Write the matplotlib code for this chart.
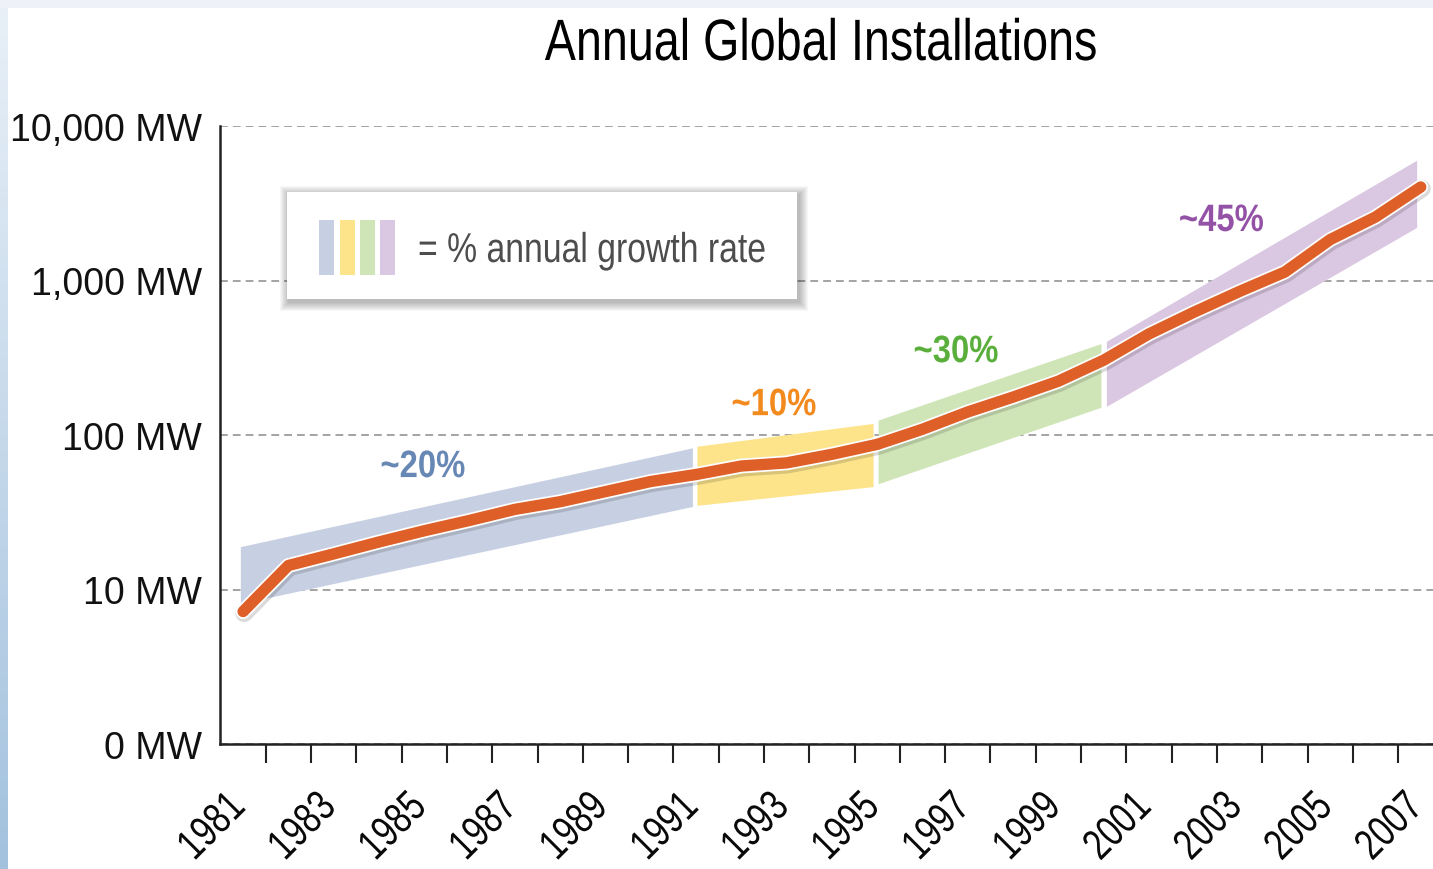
import numpy as np
import matplotlib
matplotlib.use('Agg')
import matplotlib.pyplot as plt
from matplotlib import patheffects as pe
from matplotlib import font_manager
from matplotlib.patches import Rectangle
from matplotlib.ticker import NullLocator, FixedLocator
from matplotlib.transforms import Affine2D, Bbox, ScaledTranslation

# values (MW installed per year)
years = list(range(1981, 2008))
mw = [7.2, 14.3, 17, 20.3, 24, 28, 33, 37, 43, 50,
      55.5, 63, 66, 75, 87, 109, 141, 176, 223, 305,
      451, 625, 850, 1135, 1840, 2575, 4030]

# growth-rate bands: x range and low/high edges at both ends
band_x0 = [1980.95, 1991.03, 1995.03, 2000.07]
band_x1 = [1990.93, 1994.92, 1999.95, 2006.92]
band_lo0 = [8.05, 34.8, 48, 152]
band_lo1 = [34.2, 46, 150, 2190]
band_hi0 = [18.8, 84, 124, 401]
band_hi1 = [82, 118, 388, 5960]
band_colors = ['#c7d0e2', '#fde48b', '#d0e5b7', '#dac7e2']

band_labels = ['~20%', '~10%', '~30%', '~45%']
label_x = [1984.97, 1992.72, 1996.74, 2002.6]
label_y = [62, 156, 344, 2427]
label_colors = ['#6787b5', '#f28a1e', '#5aaf3c', '#9452a6']

ytick_vals = [1, 10, 100, 1000, 10000]
ytick_text = ['0 MW', '10 MW', '100 MW', '1,000 MW', '10,000 MW']
xlabel_years = list(range(1981, 2008, 2))

names = {f.name for f in font_manager.fontManager.ttflist}
SANS = 'Liberation Sans' if 'Liberation Sans' in names else 'DejaVu Sans'


class Condense(pe.AbstractPathEffect):
    """squeeze a text horizontally (along its baseline) about its anchor"""

    def __init__(self, text, sx):
        super().__init__()
        self.text = text
        self.sx = sx

    def draw_path(self, renderer, gc, tpath, affine, rgbFace=None):
        x, y = self.text.get_transform().transform(self.text.get_unitless_position())
        a = self.text.get_rotation()
        squeeze = (Affine2D().translate(-x, -y).rotate_deg(-a).scale(self.sx, 1)
                   .rotate_deg(a).translate(x, y))
        renderer.draw_path(gc, tpath, affine + squeeze, rgbFace)


def condense(t, sx):
    t.set_path_effects([Condense(t, sx)])
    return t


def squeeze_extent(t, sx):
    # 45 degree label anchored at its right end: report the squeezed box
    orig = t.get_window_extent

    def ext(renderer=None, dpi=None):
        bb = orig(renderer, dpi)
        t.set_rotation(0)
        w = orig(renderer, dpi).width
        t.set_rotation(45)
        d = (1 - sx) * w * 0.7071
        return Bbox([[bb.x0 + d, bb.y0 + d], [bb.x1, bb.y1]])

    t.get_window_extent = ext


W, H = 1433, 870
fig = plt.figure(figsize=(W / 100, H / 100), dpi=100)
fig.patch.set_facecolor('white')


def fx(x):
    return x / W


def fy(y):
    return 1 - y / H


# page decoration: pale strips on the top and left edges
fig.patches.append(Rectangle((0, fy(9)), 1, 9 / H, transform=fig.transFigure,
                             color='#eef2f8', lw=0, zorder=0))
strip = fig.add_axes([0, 0, fx(8), fy(9)])
grad = np.linspace(0, 1, 256).reshape(-1, 1)
top_c = np.array([0.91, 0.94, 0.97])
bot_c = np.array([0.64, 0.76, 0.87])
img = top_c[None, None, :] * (1 - grad[:, :, None]) + bot_c[None, None, :] * grad[:, :, None]
strip.imshow(img, aspect='auto', extent=[0, 1, 0, 1])
strip.axis('off')

ax = fig.add_axes([fx(220), fy(745), fx(1433) - fx(220), fy(127) - fy(745)])
ax.set_yscale('log')
ax.set_ylim(1, 10000)
ax.set_xlim(1980.49, 2007.27)
ax.patch.set_alpha(0)

for x0, x1, lo0, lo1, hi0, hi1, c in zip(band_x0, band_x1, band_lo0, band_lo1,
                                         band_hi0, band_hi1, band_colors):
    ax.fill([x0, x1, x1, x0], [lo0, lo1, hi1, hi0], color=c, lw=0, zorder=2)

ax.plot(years, mw, color='#de6028', lw=8.2, solid_capstyle='round',
        solid_joinstyle='round', zorder=4,
        path_effects=[pe.SimpleLineShadow(offset=(0.8, -1.2), shadow_color='k',
                                          alpha=0.14, linewidth=12.8),
                      pe.Stroke(linewidth=10.7, foreground='white'),
                      pe.Normal()])

for t, x, y, c in zip(band_labels, label_x, label_y, label_colors):
    condense(ax.text(x, y, t, color=c, fontsize=27.5, fontweight='bold', family=SANS,
                     ha='center', va='center', zorder=5), 0.86)

# axes styling
for s in ['top', 'right']:
    ax.spines[s].set_visible(False)
for s in ['left', 'bottom']:
    ax.spines[s].set_linewidth(1.8)
    ax.spines[s].set_color('#222222')

ax.yaxis.set_major_locator(FixedLocator(ytick_vals))
ax.yaxis.set_minor_locator(NullLocator())
ax.set_yticklabels(ytick_text, family=SANS, fontsize=27, color='#111111')
ax.tick_params(axis='y', length=0, pad=13)
ax.yaxis.grid(True, color='#a3a3a3', lw=1.4, ls=(0, (4, 2.6)))
ax.set_axisbelow(True)

ax.set_xticks(xlabel_years)
ax.set_xticklabels([str(y) for y in xlabel_years], family=SANS,
                   fontsize=31, color='#0a0a0a')
ax.set_xticks([y + 0.5 for y in years[:-1]], minor=True)
ax.tick_params(axis='x', which='major', length=0, pad=41)
ax.tick_params(axis='x', which='minor', length=14, width=1.5, color='#222222')
shift = ScaledTranslation(-4 / 100, 0, fig.dpi_scale_trans)
for lab in ax.get_xticklabels():
    lab.set_rotation(45)
    lab.set_ha('right')
    lab.set_va('center')
    lab.set_rotation_mode('anchor')
    lab.set_transform(lab.get_transform() + shift)
    condense(lab, 0.78)
    squeeze_extent(lab, 0.78)

# legend box with soft shadow
bx0, by0, bx1, by1 = 287, 193, 797, 300
for k in range(9, 0, -1):
    fig.patches.append(Rectangle((fx(bx0 - k + 2), fy(by1 + k + 3)),
                                 (bx1 - bx0 + 2 * k) / W, (by1 - by0 + 2 * k) / H,
                                 transform=fig.transFigure, color='k',
                                 alpha=0.03, lw=0, zorder=5))
fig.patches.append(Rectangle((fx(bx0), fy(by1)), (bx1 - bx0) / W, (by1 - by0) / H,
                             transform=fig.transFigure, color='white', lw=0,
                             zorder=6))
for i, c in enumerate(band_colors):
    xb = 319 + i * 20.5
    fig.patches.append(Rectangle((fx(xb), fy(276)), 15 / W, 55 / H,
                                 transform=fig.transFigure, color=c, lw=0,
                                 zorder=7))
condense(fig.text(fx(418), fy(263), '= % annual growth rate', family=SANS,
                  fontsize=30, color='#4d4d4d', ha='left', va='baseline',
                  zorder=8), 0.81)

condense(fig.text(fx(821), fy(61), 'Annual Global Installations', family=SANS,
                  fontsize=42, color='black', ha='center', va='baseline'), 0.80)

fig.savefig('out.png', dpi=100)
